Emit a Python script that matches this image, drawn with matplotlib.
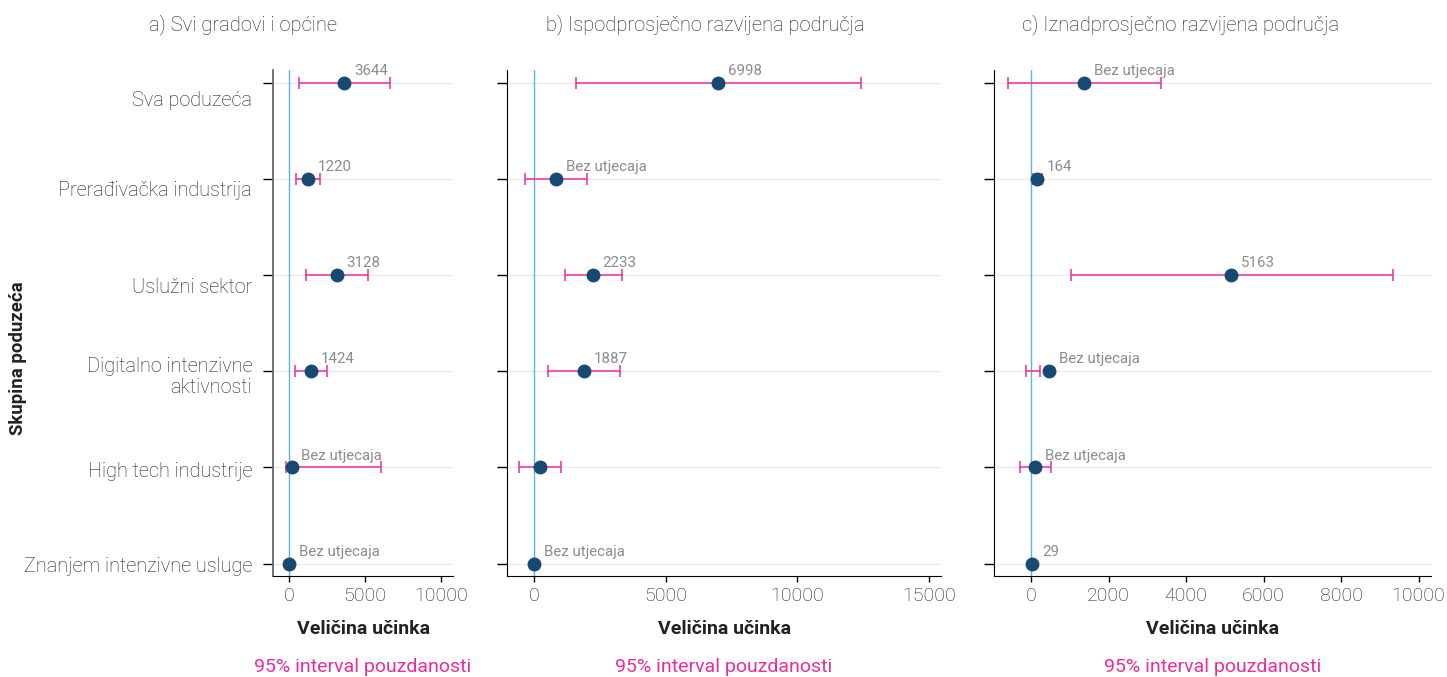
import numpy as np
from matplotlib import pyplot as plt

plt.rcParams['font.family'] = ['Roboto', 'DejaVu Sans']
plt.rcParams['font.weight'] = 'light'

# groups, top to bottom
groups = ["Sva poduzeća", "Prerađivačka industrija", "Uslužni sektor",
          "Digitalno intenzivne\naktivnosti", "High tech industrije",
          "Znanjem intenzivne usluge"]

titles = ["a) Svi gradovi i općine",
          "b) Ispodprosječno razvijena područja",
          "c) Iznadprosječno razvijena područja"]

# a) all cities and municipalities
a_est = [3644, 1220, 3128, 1424, 170, 10]
a_lo = [660, 440, 1100, 400, -220, np.nan]
a_hi = [6640, 2040, 5190, 2480, 6040, np.nan]
a_lab = ["3644", "1220", "3128", "1424", "Bez utjecaja", "Bez utjecaja"]

# b) below average developed areas
b_est = [6998, 835, 2233, 1887, 210, 0]
b_lo = [1610, -350, 1160, 530, -580, np.nan]
b_hi = [12400, 2030, 3330, 3255, 1010, np.nan]
b_lab = ["6998", "Bez utjecaja", "2233", "1887", "", "Bez utjecaja"]

# c) above average developed areas
c_est = [1370, 164, 5163, 460, 100, 29]
c_lo = [-590, 60, 1030, -120, -300, np.nan]
c_hi = [3350, 270, 9330, 240, 500, np.nan]
c_lab = ["Bez utjecaja", "164", "5163", "Bez utjecaja", "Bez utjecaja", "29"]

a_ticks = [0, 5000, 10000]
b_ticks = [0, 5000, 10000, 15000]
c_ticks = [0, 2000, 4000, 6000, 8000, 10000]

PINK = '#ec2c9b'
BLUE = '#174a73'
ZERO = '#5bb4e5'
TXT = '#1e1e1e'

# the group names sit a little below their ticks in the original
name_shift = [0.18, 0.115, 0.125, 0.06, 0.04, 0.03]


def panel(ax, est, lo, hi, lab, ticks, xlim, show_names):
    y = np.arange(len(groups))
    est = np.array(est, dtype=float)
    lo = np.array(lo, dtype=float)
    hi = np.array(hi, dtype=float)
    for yy in y:
        ax.axhline(yy, color='#ebebeb', lw=1.0, zorder=0)
    ax.axvline(0, color=ZERO, lw=1.0, zorder=1)
    ok = ~np.isnan(lo)
    # CI bars drawn by hand: one estimate lies outside its interval
    ax.hlines(y[ok], lo[ok], hi[ok], color=PINK, lw=1.1, zorder=2)
    ax.plot(lo[ok], y[ok], '|', color=PINK, ms=9, mew=1.1, zorder=2)
    ax.plot(hi[ok], y[ok], '|', color=PINK, ms=9, mew=1.1, zorder=2)
    ax.plot(est, y, 'o', color=BLUE, ms=9, zorder=3)
    for xx, yy, t in zip(est, y, lab):
        if t:
            ax.annotate(t, (xx, yy), xytext=(7, 3.5), textcoords='offset points',
                        fontsize=10.8, fontweight='normal', color='#8c8c8c',
                        ha='left', va='bottom')
    ax.set_xlim(*xlim)
    ax.set_ylim(5.13, -0.13)
    ax.set_xticks(ticks)
    ax.set_xticklabels([str(t) for t in ticks], fontsize=14, color=TXT)
    ax.set_yticks(y)
    ax.set_yticklabels([])
    if show_names:
        for yy, name, dy in zip(y, groups, name_shift):
            ax.annotate(name, xy=(0, yy + dy), xycoords=('axes fraction', 'data'),
                        xytext=(-15, 0), textcoords='offset points',
                        ha='right', va='center', multialignment='right',
                        fontsize=14.3, color=TXT, linespacing=1.15)
    ax.tick_params(axis='y', length=7, width=1)
    ax.tick_params(axis='x', length=4, width=1)
    for s in ['top', 'right']:
        ax.spines[s].set_visible(False)
    ax.set_xlabel("Veličina učinka", fontsize=14, fontweight='bold',
                  color='#222222', labelpad=11)


fig = plt.figure(figsize=(14.47, 6.77), dpi=100)
bottom, height = 0.149, 0.747
ax_a = fig.add_axes([0.1887, bottom, 0.1244, height])
ax_b = fig.add_axes([0.3504, bottom, 0.2999, height])
ax_c = fig.add_axes([0.6869, bottom, 0.3020, height])

panel(ax_a, a_est, a_lo, a_hi, a_lab, a_ticks, (-1050, 10800), True)
panel(ax_b, b_est, b_lo, b_hi, b_lab, b_ticks, (-1025, 15450), False)
panel(ax_c, c_est, c_lo, c_hi, c_lab, c_ticks, (-960, 10320), False)
ax_a.spines['left'].set_color('#666666')
ax_a.spines['left'].set_linewidth(1.3)

title_x = [243 / 1447, 705 / 1447, 1181 / 1447]
for tx, t in zip(title_x, titles):
    fig.text(tx, 0.963, t, ha='center', va='center', fontsize=14.5, color=TXT)

for ax in [ax_a, ax_b, ax_c]:
    pos = ax.get_position()
    fig.text(pos.x0 + pos.width / 2, 1 - 667 / 677, "95% interval pouzdanosti",
             ha='center', va='center', fontsize=14, fontweight='normal', color=PINK)

fig.text(18 / 1447, 1 - 358 / 677, "Skupina poduzeća", rotation=90,
         ha='center', va='center', fontsize=13.4, fontweight='bold', color='#222222')

fig.savefig("out.png", dpi=100)
